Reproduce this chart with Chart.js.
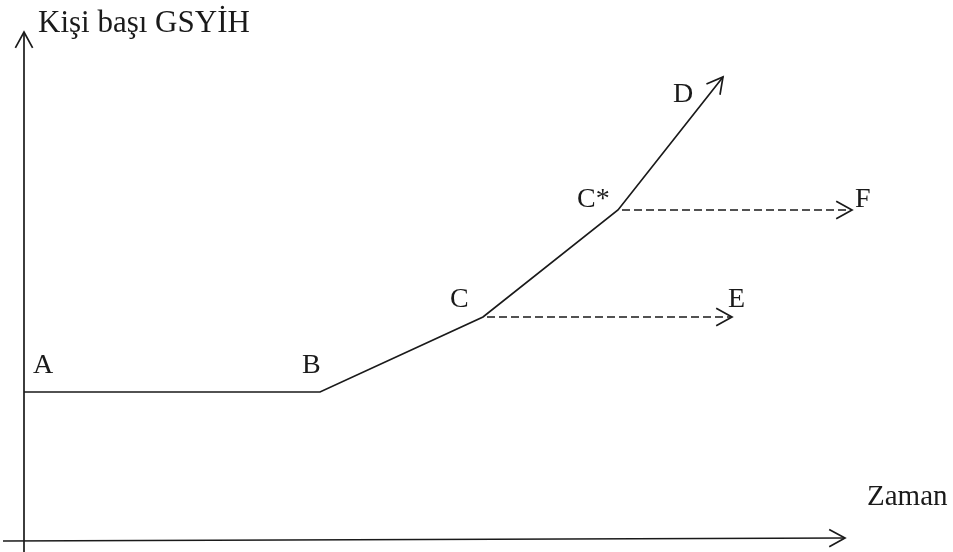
<!DOCTYPE html>
<html>
<head>
<meta charset="utf-8">
<script src="https://cdn.jsdelivr.net/npm/chart.js@4"></script>
<style>
  body { margin: 0; background: #fff; }
  canvas { display: block; }
</style>
</head>
<body>
<canvas id="myChart" width="953" height="552"></canvas>
<script>
// point names and their values (time, GDP per capita), origin at the axes corner
var pointNames = ["A", "B", "C", "C*", "D", "E", "F"];
var timeValues = [0, 296, 459, 594, 699, 708, 828];
var gdpValues = [149, 149, 224, 331, 464, 224, 331];

// axis extents
var xAxisTime = [-21, 821];
var xAxisGdp = [0, 3];
var yAxisTime = [0, 0];
var yAxisGdp = [-11, 509];

var axisTitles = ["Kişi başı GSYİH", "Zaman"];

function pt(name) {
  var i = pointNames.indexOf(name);
  return { x: timeValues[i], y: gdpValues[i] };
}

var ink = "#1a1a1a";

// label offsets in pixels from the point they belong to
var labelOffsets = {
  "A": [9, -19], "B": [-18, -19], "C": [-33, -10], "C*": [-41, -3],
  "D": [-50, 25], "E": [-4, -10], "F": [3, -3]
};

var arrowsAndLabels = {
  id: "arrowsAndLabels",
  afterDatasetsDraw: function (chart) {
    var ctx = chart.ctx;
    ctx.save();
    chart.data.datasets.forEach(function (ds, i) {
      if (!ds.arrow) return;
      var pts = chart.getDatasetMeta(i).data;
      var a = pts[pts.length - 2], b = pts[pts.length - 1];
      var ang = Math.atan2(b.y - a.y, b.x - a.x);
      var len = 18, spread = 0.5;
      ctx.beginPath();
      ctx.moveTo(b.x - len * Math.cos(ang - spread), b.y - len * Math.sin(ang - spread));
      ctx.lineTo(b.x, b.y);
      ctx.lineTo(b.x - len * Math.cos(ang + spread), b.y - len * Math.sin(ang + spread));
      ctx.strokeStyle = ink;
      ctx.lineWidth = 1.7;
      ctx.lineJoin = "miter";
      ctx.stroke();
    });

    var xs = chart.scales.x, ys = chart.scales.y;
    ctx.fillStyle = ink;
    ctx.textBaseline = "alphabetic";
    ctx.textAlign = "left";
    ctx.font = "28px 'Liberation Serif'";
    pointNames.forEach(function (n, i) {
      var off = labelOffsets[n];
      ctx.fillText(n, xs.getPixelForValue(timeValues[i]) + off[0], ys.getPixelForValue(gdpValues[i]) + off[1]);
    });
    ctx.font = "31px 'Liberation Serif'";
    ctx.fillText(axisTitles[0], xs.getPixelForValue(yAxisTime[1]) + 14, ys.getPixelForValue(yAxisGdp[1]));
    ctx.font = "29px 'Liberation Serif'";
    ctx.fillText(axisTitles[1], xs.getPixelForValue(xAxisTime[1]) + 22, ys.getPixelForValue(xAxisGdp[1]) - 33);
    ctx.restore();
  }
};

function line(points, dashed, arrow) {
  return {
    data: points,
    showLine: true,
    borderColor: ink,
    borderWidth: 1.7,
    borderDash: dashed ? [8, 4] : [],
    borderDashOffset: dashed ? 8 : 0,
    pointRadius: 0,
    tension: 0,
    arrow: arrow
  };
}

new Chart("myChart", {
  type: "scatter",
  data: {
    datasets: [
      line([{ x: yAxisTime[0], y: yAxisGdp[0] }, { x: yAxisTime[1], y: yAxisGdp[1] }], false, true),
      line([{ x: xAxisTime[0], y: xAxisGdp[0] }, { x: xAxisTime[1], y: xAxisGdp[1] }], false, true),
      line([pt("A"), pt("B"), pt("C"), pt("C*"), pt("D")], false, true),
      line([pt("C"), pt("E")], true, true),
      line([pt("C*"), pt("F")], true, true)
    ]
  },
  options: {
    responsive: false,
    animation: false,
    layout: { padding: 0 },
    plugins: { legend: { display: false }, tooltip: { enabled: false } },
    scales: {
      x: { type: "linear", display: false, min: -24, max: 929 },
      y: { type: "linear", display: false, min: -11, max: 541 }
    }
  },
  plugins: [arrowsAndLabels]
});
</script>
</body>
</html>
